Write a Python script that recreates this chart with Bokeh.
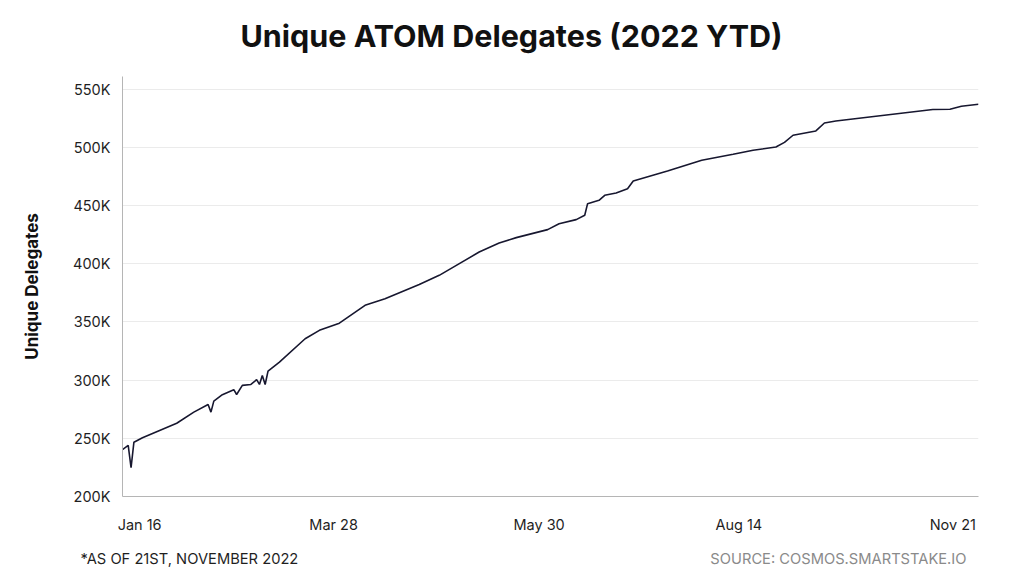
from bokeh.plotting import figure
from bokeh.models import FixedTicker, Range1d
from bokeh.layouts import column
from bokeh.core.properties import value
from bokeh.embed import file_html
from bokeh.resources import INLINE

# observation index (data points along the x axis) and unique delegates
obs = [0, 2, 3, 4, 7, 13, 19, 25, 30, 31, 32, 35, 39, 40, 42, 45, 47, 48, 49, 50,
       51, 55, 64, 69, 76, 85, 92, 104, 111, 117, 125, 132, 138, 149, 153, 159,
       162, 163, 167, 169, 173, 177, 179, 191, 203, 214, 221, 229, 232, 235, 243,
       246, 250, 267, 284, 290, 294, 300]
delegates = [240200, 243900, 224700, 246700, 250500, 256800, 263000, 272500, 279100,
             272500, 282000, 287500, 291800, 287700, 295500, 296300, 300400, 296300,
             304100, 296300, 307800, 315500, 335600, 342800, 349000, 364300, 370000,
             382300, 390100, 398700, 410100, 417800, 422500, 429400, 434500, 438000,
             441700, 451700, 454600, 458900, 460800, 464600, 471200, 479800, 489000,
             494100, 497600, 500400, 504400, 510500, 514200, 521000, 522800, 527700,
             532600, 532800, 535400, 537100]

tick_obs = [6, 74, 146, 216, 291]
tick_labels = ["Jan 16", "Mar 28", "May 30", "Aug 14", "Nov 21"]
y_ticks = [200000, 250000, 300000, 350000, 400000, 450000, 500000, 550000]
y_tick_labels = ["200K", "250K", "300K", "350K", "400K", "450K", "500K", "550K"]

title_text = "Unique ATOM Delegates (2022 YTD)"
note_text = "*AS OF 21ST, NOVEMBER 2022"
source_text = "SOURCE: COSMOS.SMARTSTAKE.IO"

FONT = "Inter"
W = 1016


def text_strip(height):
    f = figure(width=W, height=height, output_backend="svg", toolbar_location=None,
               x_range=Range1d(0, W), y_range=Range1d(0, height),
               x_axis_type=None, y_axis_type=None, min_border=0)
    f.frame_align = False
    f.title.visible = False
    f.outline_line_color = None
    f.grid.visible = False
    return f


# header with the title
head = text_strip(64)
head.text(x=[511], y=[29], text=[title_text], text_align="center",
          text_baseline="alphabetic", text_font=value(FONT),
          text_font_style="bold", text_font_size="30.5px", text_color="#111111")

# main chart
p = figure(width=W, height=471, output_backend="svg", toolbar_location=None,
           x_range=Range1d(0, 300), y_range=Range1d(200000, 561000),
           min_border_left=122, min_border_right=38, min_border_top=12,
           min_border_bottom=39)
p.title.visible = False
p.outline_line_color = None

p.line(obs, delegates, line_color="#17172f", line_width=1.6)

p.xgrid.visible = False
p.ygrid.grid_line_color = "#ebebeb"
p.ygrid.grid_line_width = 1

p.xaxis.ticker = FixedTicker(ticks=tick_obs)
p.xaxis.major_label_overrides = {t: l for t, l in zip(tick_obs, tick_labels)}
p.yaxis.ticker = FixedTicker(ticks=y_ticks)
p.yaxis.major_label_overrides = {t: l for t, l in zip(y_ticks, y_tick_labels)}

for ax in (p.xaxis, p.yaxis):
    ax.axis_line_color = "#b5b5b5"
    ax.axis_line_width = 1
    ax.major_tick_line_color = None
    ax.minor_tick_line_color = None
    ax.major_label_text_font = FONT
    ax.major_label_text_font_size = "14.5px"
    ax.major_label_text_color = "#1f1f1f"

p.xaxis.major_label_standoff = 13
p.yaxis.major_label_standoff = 6
p.yaxis.axis_label = "Unique Delegates"
p.yaxis.axis_label_text_font = FONT
p.yaxis.axis_label_text_font_style = "bold"
p.yaxis.axis_label_text_font_size = "17px"
p.yaxis.axis_label_text_color = "#111111"
p.yaxis.axis_label_standoff = 28

# footer
foot = text_strip(40)
foot.text(x=[80], y=[17], text=[note_text], text_align="left",
          text_baseline="alphabetic", text_font=value(FONT),
          text_font_size="14.7px", text_color="#1f1f1f")
foot.text(x=[966], y=[17], text=[source_text], text_align="right",
          text_baseline="alphabetic", text_font=value(FONT),
          text_font_size="14.7px", text_color="#8a8a8a")

layout = column(head, p, foot, spacing=0)
open("out.html", "w").write(file_html(layout, INLINE))
